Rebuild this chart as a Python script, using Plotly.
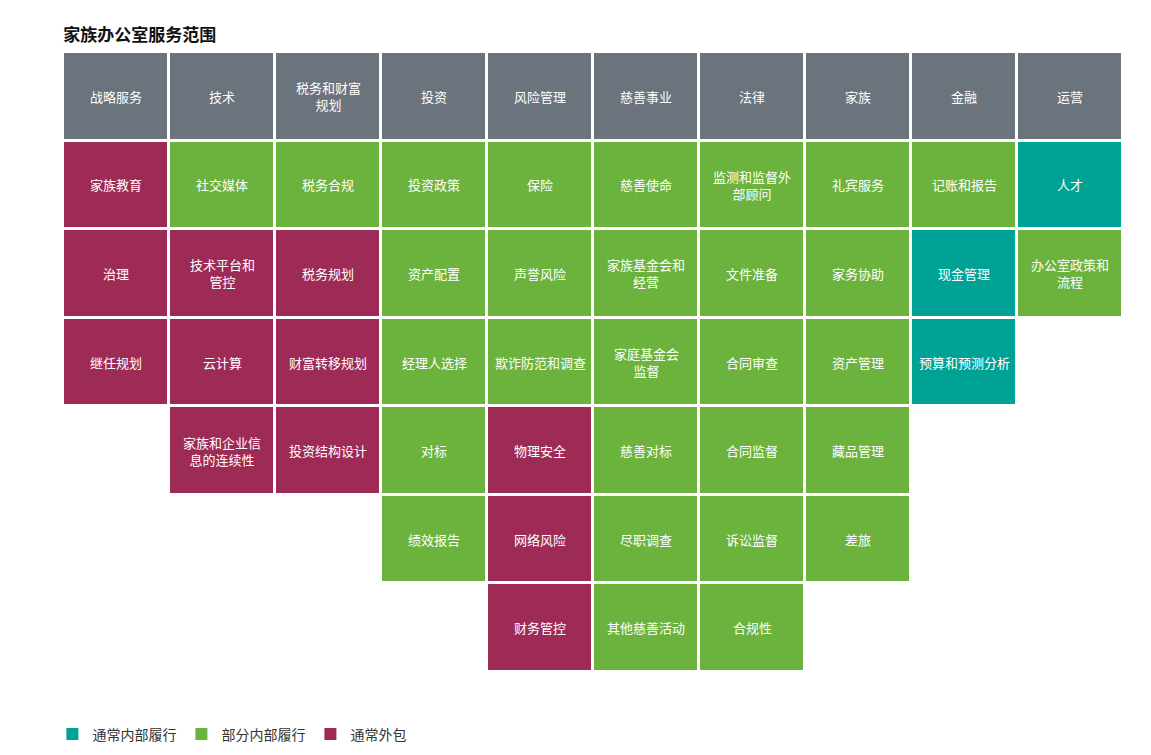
import plotly.graph_objects as go

# 0 = header, 1 = 通常内部履行, 2 = 部分内部履行, 3 = 通常外包
headers = ["战略服务", "技术", "税务和财富<br>规划", "投资", "风险管理", "慈善事业", "法律", "家族", "金融", "运营"]

services = [
    [("家族教育", 3), ("治理", 3), ("继任规划", 3)],
    [("社交媒体", 2), ("技术平台和<br>管控", 3), ("云计算", 3), ("家族和企业信<br>息的连续性", 3)],
    [("税务合规", 2), ("税务规划", 3), ("财富转移规划", 3), ("投资结构设计", 3)],
    [("投资政策", 2), ("资产配置", 2), ("经理人选择", 2), ("对标", 2), ("绩效报告", 2)],
    [("保险", 2), ("声誉风险", 2), ("欺诈防范和调查", 2), ("物理安全", 3), ("网络风险", 3), ("财务管控", 3)],
    [("慈善使命", 2), ("家族基金会和<br>经营", 2), ("家庭基金会<br>监督", 2), ("慈善对标", 2), ("尽职调查", 2), ("其他慈善活动", 2)],
    [("监测和监督外<br>部顾问", 2), ("文件准备", 2), ("合同审查", 2), ("合同监督", 2), ("诉讼监督", 2), ("合规性", 2)],
    [("礼宾服务", 2), ("家务协助", 2), ("资产管理", 2), ("藏品管理", 2), ("差旅", 2)],
    [("记账和报告", 2), ("现金管理", 1), ("预算和预测分析", 1)],
    [("人才", 1), ("办公室政策和<br>流程", 2)],
]

legend_names = ["通常内部履行", "部分内部履行", "通常外包"]
colors = ["#6b737d", "#00a296", "#6cb33e", "#9d2b56"]

n_rows = 1 + max(len(c) for c in services)
n_cols = len(headers)
z = [[None] * n_cols for _ in range(n_rows)]
annotations = []
for ci, h in enumerate(headers):
    z[0][ci] = 0
    annotations.append(dict(x=ci, y=0, text=h))
    for ri, (label, cat) in enumerate(services[ci], start=1):
        z[ri][ci] = cat
        annotations.append(dict(x=ci, y=ri, text=label))

colorscale = [[0, colors[0]], [0.25, colors[0]], [0.25, colors[1]], [0.5, colors[1]],
              [0.5, colors[2]], [0.75, colors[2]], [0.75, colors[3]], [1, colors[3]]]

fig = go.Figure()
fig.add_trace(go.Heatmap(z=z, zmin=-0.5, zmax=3.5, colorscale=colorscale, showscale=False,
                         xgap=3, ygap=3, hoverinfo="skip", showlegend=False))

for name, col in zip(legend_names, colors[1:]):
    fig.add_trace(go.Scatter(x=[None], y=[None], mode="markers", name=name,
                             marker=dict(symbol="square", size=18, color=col)))

for a in annotations:
    a.update(xref="x", yref="y", showarrow=False, font=dict(color="white", size=13))
fig.update_layout(
    annotations=annotations,
    width=1151, height=755,
    margin=dict(l=55, r=36, t=44, b=80),
    plot_bgcolor="white", paper_bgcolor="white",
    font=dict(family="Noto Sans CJK SC", color="#333333"),
    title=dict(text="<b>家族办公室服务范围</b>", x=0.048, xanchor="left", y=0.972, font=dict(size=17, color="#111111")),
    xaxis=dict(visible=False, range=[-0.5, n_cols - 0.5]),
    yaxis=dict(visible=False, autorange="reversed", range=[n_rows - 0.5, -0.5]),
    legend=dict(orientation="h", x=-0.01, y=-0.075, xanchor="left", yanchor="top",
                font=dict(size=14, color="#333333"), itemsizing="constant"),
)

fig.write_html("out.html")
